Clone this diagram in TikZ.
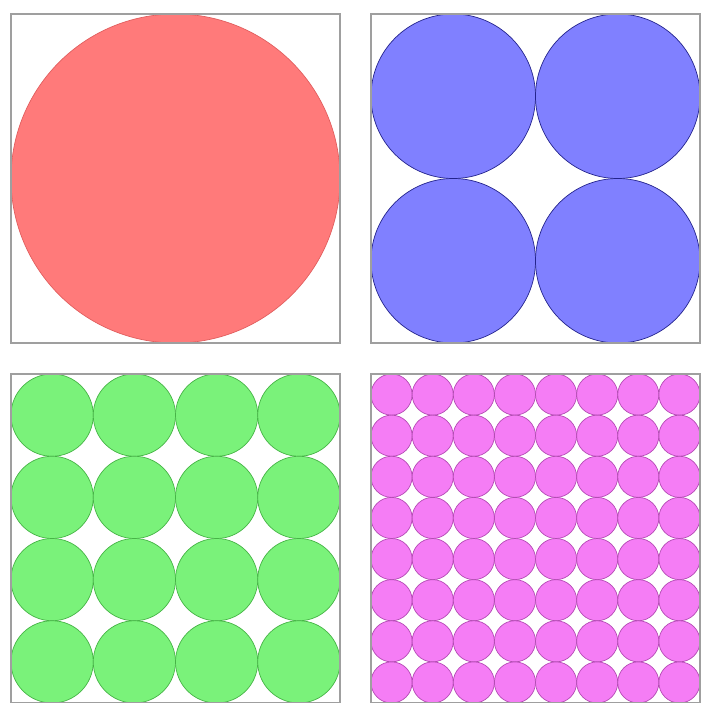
\documentclass[tikz,border=0pt]{standalone}
\usetikzlibrary{positioning}
\definecolor{redfill}{RGB}{255,122,122}
\definecolor{reddraw}{RGB}{225,95,95}
\definecolor{bluefill}{RGB}{128,128,255}
\definecolor{bluedraw}{RGB}{35,35,140}
\definecolor{greenfill}{RGB}{122,242,122}
\definecolor{greendraw}{RGB}{70,180,70}
\definecolor{pinkfill}{RGB}{245,125,245}
\definecolor{pinkdraw}{RGB}{180,75,180}
\begin{document}
\begin{tikzpicture}[x=0.02cm, y=-0.02cm,
  frame/.style={draw=gray!75, line width=0.8pt},
  redball/.style={fill=redfill, draw=reddraw, line width=0.4pt},
  blueball/.style={fill=bluefill, draw=bluedraw, line width=0.4pt},
  greenball/.style={fill=greenfill, draw=greendraw, line width=0.4pt},
  pinkball/.style={fill=pinkfill, draw=pinkdraw, line width=0.4pt}]
\useasboundingbox (0,0) rectangle (704,703);
% packings: origin x, origin y, circles per side, style
\foreach \ox/\oy/\n/\ball in {11/14/1/redball, 371/14/2/blueball, 11/374/4/greenball, 371/374/8/pinkball}{
  \pgfmathsetmacro{\r}{329/(2*\n)}
  \foreach \i in {1,...,\n}{
    \foreach \j in {1,...,\n}{
      \path[\ball] ({\ox+(2*\i-1)*\r},{\oy+(2*\j-1)*\r}) circle[radius=\r];
    }
  }
  \draw[frame] (\ox,\oy) rectangle ++(329,329);
}
\end{tikzpicture}
\end{document}
